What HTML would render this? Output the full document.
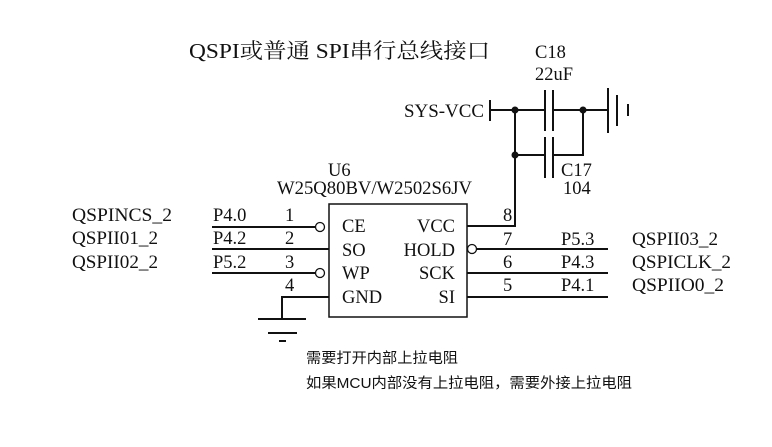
<!DOCTYPE html>
<html><head><meta charset="utf-8"><style>
html,body{margin:0;padding:0;background:#fff;}
svg{display:block;}
text{font-family:"Liberation Serif","Noto Serif CJK SC",serif;fill:#111;}
.s{font-family:"Liberation Sans","Noto Sans CJK SC",sans-serif;}
</style></head><body>
<svg width="772" height="447" viewBox="0 0 772 447" xmlns="http://www.w3.org/2000/svg">
<g stroke="#111" stroke-width="2" fill="none">
<rect x="329" y="204" width="138" height="113" stroke-width="1.5"/>
<line x1="212" y1="227" x2="316" y2="227"/>
<circle cx="320" cy="227" r="4.5" stroke-width="1.3"/>
<line x1="212" y1="249" x2="329" y2="249"/>
<line x1="212" y1="273" x2="316" y2="273"/>
<circle cx="320" cy="273" r="4.5" stroke-width="1.3"/>
<polyline points="329,297 282,297 282,319"/>
<line x1="258" y1="319" x2="306" y2="319"/>
<line x1="268" y1="333" x2="297" y2="333"/>
<line x1="279" y1="341" x2="286" y2="341"/>
<polyline points="467,226 515,226 515,110"/>
<circle cx="472" cy="249" r="4.5" stroke-width="1.3"/>
<line x1="477" y1="249" x2="608" y2="249"/>
<line x1="467" y1="273" x2="608" y2="273"/>
<line x1="467" y1="297" x2="608" y2="297"/>
<line x1="490" y1="100" x2="490" y2="121"/>
<line x1="490" y1="110" x2="545" y2="110"/>
<line x1="515" y1="155" x2="545" y2="155"/>
<line x1="545" y1="90" x2="545" y2="131"/>
<line x1="553" y1="90" x2="553" y2="131"/>
<line x1="545" y1="137" x2="545" y2="178"/>
<line x1="553" y1="137" x2="553" y2="178"/>
<line x1="553" y1="110" x2="608" y2="110"/>
<polyline points="583,110 583,155 553,155"/>
<line x1="608" y1="88" x2="608" y2="133"/>
<line x1="617" y1="95" x2="617" y2="126"/>
<line x1="628" y1="104" x2="628" y2="116"/>
</g>
<g fill="#111">
<circle cx="515" cy="110" r="3.5"/><circle cx="515" cy="155" r="3.5"/><circle cx="583" cy="110" r="3.5"/>
</g>
<text x="189" y="58" font-size="21" textLength="301" lengthAdjust="spacingAndGlyphs">QSPI或普通 SPI串行总线接口</text>
<g font-size="18.5">
<text x="535" y="58">C18</text>
<text x="535" y="80" textLength="38" lengthAdjust="spacingAndGlyphs">22uF</text>
<text x="404" y="117" textLength="80" lengthAdjust="spacingAndGlyphs">SYS-VCC</text>
<text x="561" y="176">C17</text>
<text x="563" y="194">104</text>
<text x="328" y="176">U6</text>
<text x="277" y="194" textLength="195" lengthAdjust="spacingAndGlyphs">W25Q80BV/W2502S6JV</text>
<text x="72" y="221" textLength="100" lengthAdjust="spacingAndGlyphs">QSPINCS_2</text>
<text x="72" y="244" textLength="86" lengthAdjust="spacingAndGlyphs">QSPII01_2</text>
<text x="72" y="268" textLength="86" lengthAdjust="spacingAndGlyphs">QSPII02_2</text>
<text x="213" y="221">P4.0</text>
<text x="213" y="244">P4.2</text>
<text x="213" y="268">P5.2</text>
<text x="285" y="221">1</text><text x="285" y="244">2</text><text x="285" y="268">3</text><text x="285" y="291">4</text>
<text x="342" y="232">CE</text><text x="342" y="256">SO</text><text x="342" y="279">WP</text><text x="342" y="303">GND</text>
<text x="455" y="232" text-anchor="end">VCC</text><text x="455" y="256" text-anchor="end">HOLD</text>
<text x="455" y="279" text-anchor="end">SCK</text><text x="455" y="303" text-anchor="end">SI</text>
<text x="503" y="221">8</text><text x="503" y="245">7</text><text x="503" y="268">6</text><text x="503" y="291">5</text>
<text x="561" y="245">P5.3</text><text x="561" y="268">P4.3</text><text x="561" y="291">P4.1</text>
<text x="632" y="245" textLength="86" lengthAdjust="spacingAndGlyphs">QSPII03_2</text>
<text x="632" y="268" textLength="99" lengthAdjust="spacingAndGlyphs">QSPICLK_2</text>
<text x="632" y="291" textLength="92" lengthAdjust="spacingAndGlyphs">QSPIIO0_2</text>
</g>
<text class="s" x="306" y="363" font-size="14.5" textLength="152" lengthAdjust="spacingAndGlyphs">需要打开内部上拉电阻</text>
<text class="s" x="306" y="388" font-size="14.5" textLength="326" lengthAdjust="spacingAndGlyphs">如果MCU内部没有上拉电阻，需要外接上拉电阻</text>
</svg>
</body></html>
